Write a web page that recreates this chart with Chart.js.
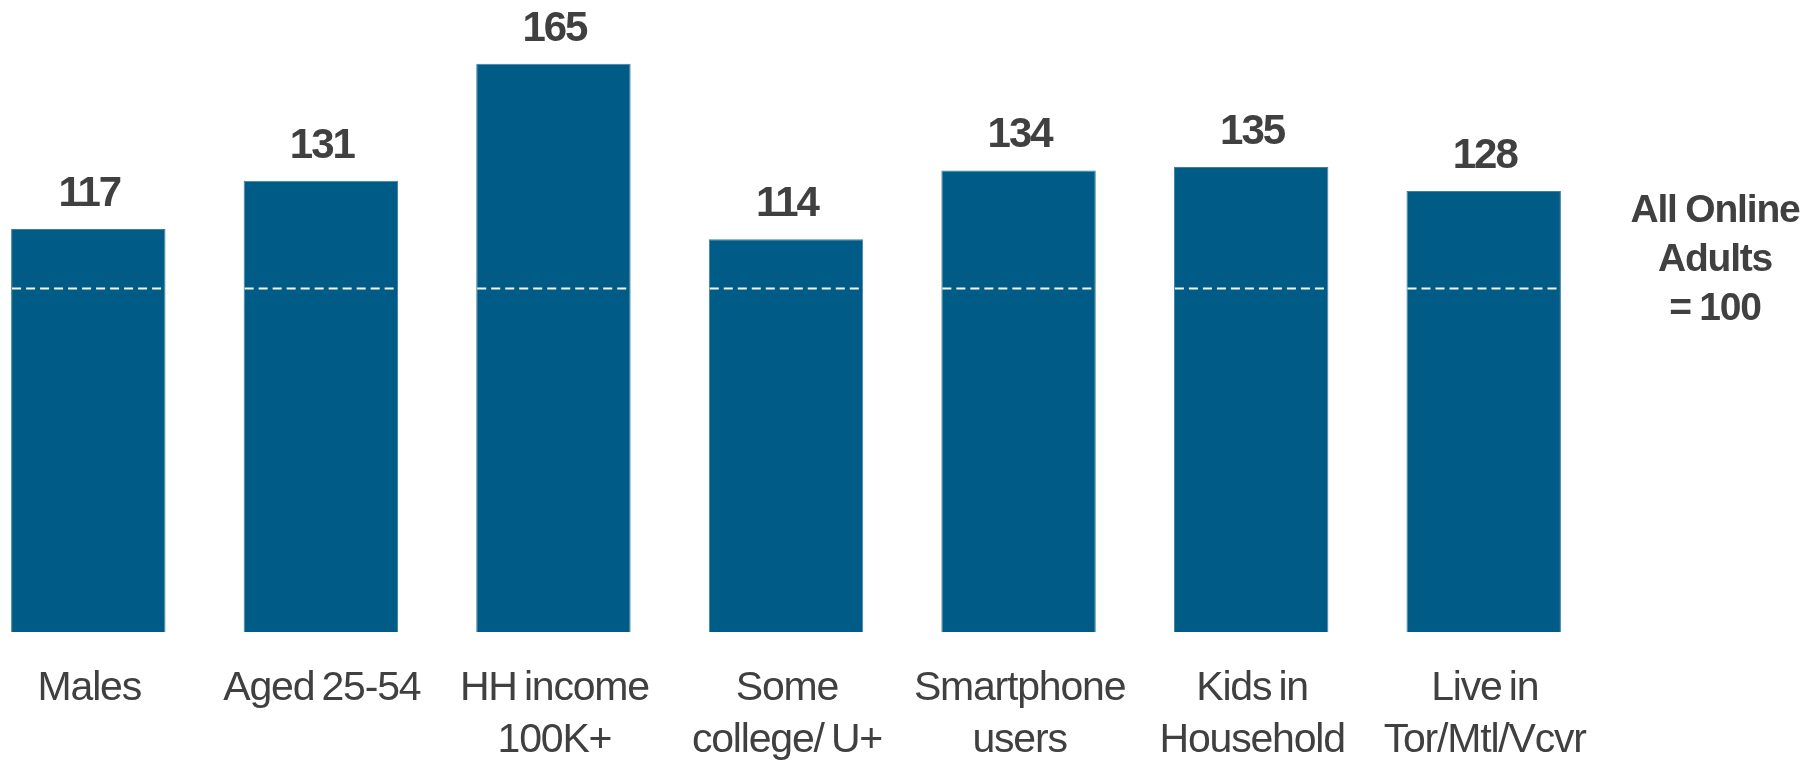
<!DOCTYPE html>
<html>
<head>
<meta charset="utf-8">
<title>Index vs All Online Adults</title>
<script src="https://cdn.jsdelivr.net/npm/chart.js@4/dist/chart.umd.min.js"></script>
<style>
  html, body {
    margin: 0;
    padding: 0;
    background: #ffffff;
    overflow: hidden;
  }
  #wrap {
    position: absolute;
    left: -28px;
    top: 0;
    width: 1846px;
    height: 760px;
  }
</style>
</head>
<body>
<div id="wrap"><canvas id="indexChart"></canvas></div>
<script>
// Index of each segment vs. all online adults (= 100)

const categories = [
  ["Males"],
  ["Aged 25-54"],
  ["HH income", "100K+"],
  ["Some", "college/ U+"],
  ["Smartphone", "users"],
  ["Kids in", "Household"],
  ["Live in", "Tor/Mtl/Vcvr"],
];
const indexValues = [117, 131, 165, 114, 134, 135, 128];
const baseValue = 100;
const baseLabel = ["All Online", "Adults", "= 100"];

const BAR_COLOR = "#005c86";
const TEXT_COLOR = "#404040";
const FONT = '"Liberation Sans", Arial, sans-serif';

// dashed base line, value labels, category labels and the side note
const overlayPlugin = {
  id: "overlay",
  afterDatasetsDraw(chart) {
    const ctx = chart.ctx;
    const xScale = chart.scales.x;
    const yScale = chart.scales.y;
    const area = chart.chartArea;
    const meta = chart.getDatasetMeta(0);
    const baseY = yScale.getPixelForValue(baseValue) + 1;

    ctx.save();

    // dashed line at 100 inside each bar
    ctx.strokeStyle = "#f4f7fa";
    ctx.lineWidth = 2;
    ctx.setLineDash([9, 5]);
    meta.data.forEach((bar) => {
      const half = bar.width / 2;
      ctx.beginPath();
      ctx.moveTo(bar.x - half + 1, baseY);
      ctx.lineTo(bar.x + half - 1, baseY);
      ctx.stroke();
    });
    ctx.setLineDash([]);

    // value labels
    ctx.fillStyle = TEXT_COLOR;
    ctx.textAlign = "center";
    ctx.textBaseline = "alphabetic";
    ctx.font = "bold 42px " + FONT;
    ctx.letterSpacing = "-2px";
    meta.data.forEach((bar, i) => {
      ctx.fillText(String(indexValues[i]), bar.x + 1, bar.y - 23);
    });

    // category labels
    ctx.font = "41px " + FONT;
    ctx.letterSpacing = "-1.2px";
    ctx.wordSpacing = "-3px";
    categories.forEach((lines, i) => {
      const x = xScale.getPixelForValue(i) + 1;
      lines.forEach((line, j) => {
        ctx.fillText(line, x, area.bottom + 68 + j * 52);
      });
    });

    // side note
    ctx.font = "bold 39px " + FONT;
    ctx.letterSpacing = "-1.2px";
    ctx.wordSpacing = "-1px";
    const noteX = area.right + 115;
    const noteY = yScale.getPixelForValue(baseValue);
    baseLabel.forEach((line, j) => {
      ctx.fillText(line, noteX, noteY - 66 + j * 49);
    });

    ctx.restore();
  },
};

const ctx = document.getElementById("indexChart").getContext("2d");
new Chart(ctx, {
  type: "bar",
  data: {
    labels: categories,
    datasets: [
      {
        data: indexValues,
        backgroundColor: BAR_COLOR,
        borderColor: "#3f7fa3",
        borderWidth: 1,
        barPercentage: 0.664,
        categoryPercentage: 1,
      },
    ],
  },
  options: {
    responsive: true,
    maintainAspectRatio: false,
    animation: false,
    layout: {
      padding: { top: 12, bottom: 128, left: 0, right: 218 },
    },
    plugins: {
      legend: { display: false },
      tooltip: { enabled: false },
    },
    scales: {
      x: { display: false },
      y: { display: false, min: 0, max: 180 },
    },
  },
  plugins: [overlayPlugin],
});
</script>
</body>
</html>
